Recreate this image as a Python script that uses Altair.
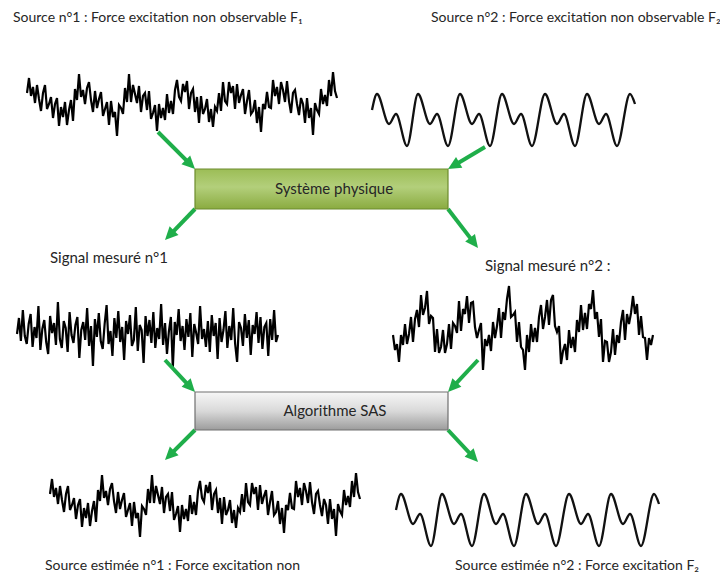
import math
import altair as alt
import pandas as pd

# ---------------- data ----------------
# noisy source 1 (pixel y), spanning x 27 -> 337
noise1_y = [93, 78, 96, 87, 103, 85, 99, 111, 93, 85, 109, 104, 97, 118, 104, 98, 126, 107, 117, 102,
            125, 110, 100, 121, 89, 100, 74, 97, 90, 104, 88, 82, 100, 112, 91, 108, 99, 92, 116, 109,
            102, 125, 101, 117, 112, 136, 105, 108, 114, 88, 102, 74, 102, 85, 94, 103, 86, 112, 96, 93,
            110, 91, 119, 113, 105, 131, 104, 118, 108, 120, 94, 113, 101, 114, 90, 80, 97, 101, 84, 92,
            81, 109, 93, 89, 112, 97, 123, 96, 114, 109, 99, 122, 109, 127, 107, 111, 93, 111, 82, 101,
            104, 82, 93, 86, 109, 84, 103, 95, 89, 114, 101, 90, 114, 111, 100, 123, 107, 132, 104, 109,
            92, 107, 108, 80, 96, 87, 104, 82, 90, 102, 81, 101, 113, 93, 90, 104, 115, 98, 104, 123,
            98, 118, 108, 135, 103, 110, 114, 89, 104, 95, 106, 80, 96, 72, 91, 98]
noise1_x = [27, 337]
# measured signal 1 (offsets around its centre line y=332), spanning x 17 -> 278
noise3_off = [2, -14, 9, -22, 4, 12, -8, -18, 15, -5, 6, -26, 18, -3, -12, 10, 22, -16, 1, -9,
              13, -30, 7, 16, -11, -4, 20, -20, 3, 11, -7, -15, 26, -2, -10, 8, -24, 14, -6, 34,
              -13, 5, -19, 9, 17, -8, -27, 12, -1, 24, -14, 6, -21, 10, -5, 28, -11, 2, -17, 14,
              8, -25, 19, -7, -2, 31, -16, 4, -12, 11, -20, 16, -4, 7, -28, 13, -9, 22, -1, -15,
              36, -10, 3, -23, 9, -6, 18, -13, 5, -19, 25, -8, 1, 12, -26, 7, -3, 15, -11, 20,
              -17, 4, -9, 27, -14, 10, -2, -21, 16, -6, 8, -24, 12, 30, -10, -4, 14, -18, 6, -12,
              23, -7, 2, -20, 11, -15, 17, -5, -9, 24, -13, 8, -22, 10, 3]
noise3_x = [17, 278]
# measured signal 2 (pixel y), spanning x 393 -> 653
noise4_y = [335, 350, 344, 362, 335, 345, 324, 344, 334, 317, 342, 319, 310, 327, 295, 315, 308, 291, 324, 316,
            318, 352, 329, 353, 347, 330, 353, 344, 324, 349, 323, 326, 333, 301, 331, 309, 314, 296, 323, 303,
            302, 327, 338, 330, 323, 370, 339, 346, 335, 351, 322, 338, 326, 308, 338, 312, 320, 299, 286, 317,
            315, 312, 342, 322, 347, 350, 370, 335, 352, 324, 342, 328, 342, 317, 305, 329, 317, 300, 325, 300,
            295, 326, 332, 326, 364, 351, 344, 360, 330, 348, 337, 352, 320, 332, 305, 330, 313, 329, 304, 309,
            290, 319, 312, 337, 319, 362, 341, 342, 362, 352, 329, 355, 335, 343, 322, 310, 340, 314, 324, 313,
            296, 314, 304, 335, 316, 337, 338, 360, 338, 345, 335]
noise4_x = [393, 653]
# periodic source 2 (key points)
wave_x = [372, 377, 389, 396, 407, 418, 430, 437, 448, 460, 472, 479, 490, 502, 514, 521, 532,
          545, 557, 564, 575, 587, 599, 606, 617, 630, 635]
wave_y = [110, 94, 124, 114, 146, 94, 124, 114, 146, 94, 124, 114, 146, 94, 124, 114, 146,
          94, 124, 114, 146, 94, 124, 114, 146, 94, 104]

labels = ["Source n°1 : Force excitation non observable F₁",
          "Source n°2 : Force excitation non observable F₂",
          "Signal mesuré n°1", "Signal mesuré n°2 :",
          "Source estimée n°1 : Force excitation non",
          "Source estimée n°2 : Force excitation F₂"]
label_x = [13, 431, 50, 485, 45, 455]
label_y = [18, 18, 258, 266, 566, 566]
label_size = [14, 14, 15, 15, 14, 14]

box_names = ["Système physique", "Algorithme SAS"]
box_x1 = [195, 195]
box_x2 = [448, 448]
box_y1 = [169, 392]
box_y2 = [209, 430]
box_tx = [334, 335]

arrow_x1 = [158, 485, 195, 448, 165, 478, 195, 448]
arrow_y1 = [132, 147, 209, 209, 360, 360, 430, 430]
arrow_x2 = [195, 448, 165, 478, 195, 448, 165, 478]
arrow_y2 = [169, 169, 240, 248, 392, 392, 460, 462]

# ---------------- tables ----------------
def spread(x0, x1, n):
    return [x0 + (x1 - x0) * i / (n - 1) for i in range(n)]

rows = []
for i, (xx, v) in enumerate(zip(spread(*noise1_x, len(noise1_y)), noise1_y)):
    rows.append(dict(sig="s1", i=i, x=xx, y=v))
    rows.append(dict(sig="s5", i=i, x=xx + 23, y=v + 401))
for i, (xx, v) in enumerate(zip(spread(*noise3_x, len(noise3_off)), noise3_off)):
    rows.append(dict(sig="s3", i=i, x=xx, y=332 + v))
for i, (xx, v) in enumerate(zip(spread(*noise4_x, len(noise4_y)), noise4_y)):
    rows.append(dict(sig="s4", i=i, x=xx, y=v))
noise_df = pd.DataFrame(rows)

wrows = []
for i, (a, b) in enumerate(zip(wave_x, wave_y)):
    wrows.append(dict(sig="s2", i=i, x=a, y=b))
    wrows.append(dict(sig="s6", i=i, x=a + 24, y=b + 400))
wave_df = pd.DataFrame(wrows)

lab_df = pd.DataFrame(dict(t=labels, x=label_x, y=label_y, s=label_size))
box_df = pd.DataFrame(dict(t=box_names, x=box_x1, x2=box_x2, y=box_y1, y2=box_y2,
                           tx=box_tx, ty=[(a + b) / 2 for a, b in zip(box_y1, box_y2)]))

HEAD = 6.5
arows = []
for a, b, c, d in zip(arrow_x1, arrow_y1, arrow_x2, arrow_y2):
    dx, dy = c - a, d - b
    L = math.hypot(dx, dy)
    ux, uy = dx / L, dy / L
    cx, cy = c - HEAD * ux, d - HEAD * uy
    ang = math.degrees(math.atan2(dx, -dy)) % 360
    arows.append(dict(x=a, y=b, x2=cx, y2=cy, ang=ang))
arr_df = pd.DataFrame(arows)

X = alt.Scale(domain=[8, 720], nice=False, zero=False)
Y = alt.Scale(domain=[8, 575], nice=False, zero=False, reverse=True)
FONT = "Lato"

def xe(f="x"):
    return alt.X(f + ":Q", scale=X, axis=None)

def ye(f="y"):
    return alt.Y(f + ":Q", scale=Y, axis=None)

noise = alt.Chart(noise_df).mark_line(color="#000000", strokeWidth=2.2, strokeJoin="miter").encode(
    x=xe(), y=ye(), detail="sig:N", order="i:Q")
wave = alt.Chart(wave_df).mark_line(color="#111111", strokeWidth=2.3, interpolate="monotone").encode(
    x=xe(), y=ye(), detail="sig:N", order="i:Q")

green = alt.Gradient(gradient="linear", x1=0, x2=0, y1=0, y2=1,
                     stops=[alt.GradientStop(color="#9cbd56", offset=0),
                            alt.GradientStop(color="#b3cf7b", offset=0.45),
                            alt.GradientStop(color="#8aab40", offset=1)])
gray = alt.Gradient(gradient="linear", x1=0, x2=0, y1=0, y2=1,
                    stops=[alt.GradientStop(color="#f7f7f7", offset=0),
                           alt.GradientStop(color="#d9d9d9", offset=0.5),
                           alt.GradientStop(color="#9c9c9c", offset=1)])

box1 = alt.Chart(box_df.iloc[[0]]).mark_rect(fill=green, stroke="#6d8c2e", strokeWidth=1.2).encode(
    x=xe(), x2="x2:Q", y=ye(), y2="y2:Q")
box2 = alt.Chart(box_df.iloc[[1]]).mark_rect(fill=gray, stroke="#707070", strokeWidth=1.2).encode(
    x=xe(), x2="x2:Q", y=ye(), y2="y2:Q")
box_txt = alt.Chart(box_df).mark_text(font=FONT, fontSize=15, color="#262626", baseline="middle").encode(
    x=xe("tx"), y=ye("ty"), text="t:N")

rules = alt.Chart(arr_df).mark_rule(color="#1fae4a", strokeWidth=4).encode(
    x=xe(), y=ye(), x2="x2:Q", y2="y2:Q")
heads = alt.Chart(arr_df).mark_point(shape="M0,-1L0.95,1L-0.95,1Z", filled=True, opacity=1,
                                     color="#1fae4a", size=4 * HEAD * HEAD, strokeWidth=0).encode(
    x=xe("x2"), y=ye("y2"), angle=alt.Angle("ang:Q", scale=None))

texts = alt.Chart(lab_df).mark_text(font=FONT, color="#262626", align="left",
                                    baseline="middle").encode(
    x=xe(), y=ye(), text="t:N", size=alt.Size("s:Q", scale=None, legend=None))

chart = alt.layer(noise, wave, rules, heads, box1, box2, box_txt, texts).properties(
    width=712, height=567, autosize=alt.AutoSizeParams(type="none"), padding=0,
    background="white").configure_view(stroke=None)

chart.save("out.html", embed_options={"renderer": "svg", "actions": False})
